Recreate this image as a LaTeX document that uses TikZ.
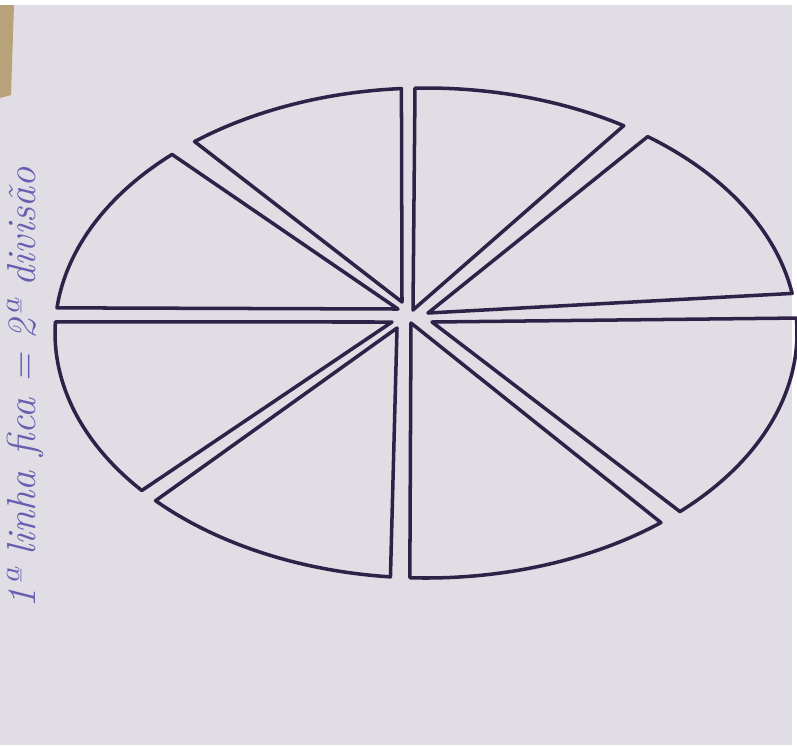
\documentclass[tikz,border=0pt]{standalone}
\usepackage{fontspec}
\usepackage{tikz}
\usepackage{xcolor}

\definecolor{paper}{HTML}{E0DEE4}
\definecolor{ink}{HTML}{2E2248}
\definecolor{pen}{HTML}{6A5CB0}
\definecolor{wood}{HTML}{B8A27A}

\begin{document}
\begin{tikzpicture}[x=0.02cm,y=0.02cm,
  piece/.style={draw=ink,line width=2pt,line join=round},
  note/.style={text=pen,font=\fontsize{23}{25}\selectfont\itshape,inner sep=0pt}]
\useasboundingbox (0,0) rectangle (797,-745);
\fill[white] (0,0) rectangle (797,-745);
\fill[paper] (0,-5) rectangle (792,-745);
\fill[wood] (0,-5) -- (14,-5) -- (11,-95) -- (0,-98) -- cycle;
% the eight pieces of the ellipse, centre (426,-333)
\draw[piece] (402,-302) -- ({426+371*cos(93.8)},{-333+245*sin(93.8)}) arc[start angle=93.8,end angle=128.6,x radius=371,y radius=245] -- cycle;
\draw[piece] (398,-309) -- ({426+371*cos(133.2)},{-333+245*sin(133.2)}) arc[start angle=133.2,end angle=174.1,x radius=371,y radius=245] -- cycle;
\draw[piece] (392,-322) -- ({426+371*cos(177.4)},{-333+245*sin(177.4)}) arc[start angle=177.4,end angle=220,x radius=371,y radius=245] -- cycle;
\draw[piece] (397,-328) -- ({426+371*cos(223.2)},{-333+245*sin(223.2)}) arc[start angle=223.2,end angle=264.5,x radius=371,y radius=245] -- cycle;
\draw[piece] (411,-323) -- ({426+371*cos(267.5)},{-333+245*sin(267.5)}) arc[start angle=267.5,end angle=309.3,x radius=371,y radius=245] -- cycle;
\draw[piece] (432,-322) -- ({426+371*cos(313.2)},{-333+245*sin(313.2)}) arc[start angle=313.2,end angle=363.5,x radius=371,y radius=245] -- cycle;
\draw[piece] (428,-313) -- ({426+371*cos(9.3)},{-333+245*sin(9.3)}) arc[start angle=9.3,end angle=53.3,x radius=371,y radius=245] -- cycle;
\draw[piece] (413,-310) -- ({426+371*cos(57.8)},{-333+245*sin(57.8)}) arc[start angle=57.8,end angle=91.7,x radius=371,y radius=245] -- cycle;
\node[note,rotate=90] (label) at (25,-388) {1ª linha fica = 2ª divisão};
\end{tikzpicture}
\end{document}
